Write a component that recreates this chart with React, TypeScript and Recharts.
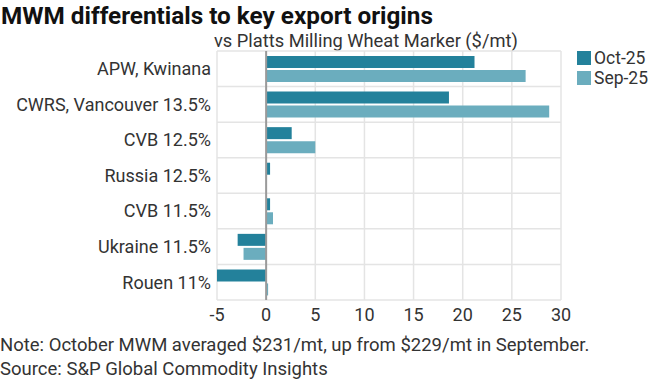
import { BarChart, Bar, XAxis, YAxis, CartesianGrid, ReferenceLine } from 'recharts';

const origins = [
    'APW, Kwinana',
    'CWRS, Vancouver 13.5%',
    'CVB 12.5%',
    'Russia 12.5%',
    'CVB 11.5%',
    'Ukraine 11.5%',
    'Rouen 11%',
];
const oct25 = [21.2, 18.6, 2.6, 0.4, 0.4, -2.9, -5.0];
const sep25 = [26.4, 28.8, 5.0, 0, 0.7, -2.3, 0.2];
const xTicks = [-5, 0, 5, 10, 15, 20, 25, 30];
const seriesNames = ['Oct-25', 'Sep-25'];
const colors = ['#23819b', '#6badbe'];

const data = origins.map((origin, i) => ({
    origin,
    oct: oct25[i],
    sep: sep25[i],
}));

const font = 'Roboto, sans-serif';

function App() {
    // grid lines sit between categories, not through them
    const bandLines = ({ offset }: any) =>
        origins.map((_, i) => offset.top + (i * offset.height) / origins.length).concat(offset.top + offset.height);

    return (
        <div style={{ position: 'fixed', top: 0, left: 0, width: 660, height: 381, background: '#fff', fontFamily: font, color: '#333' }}>
            <div style={{ position: 'absolute', left: 1, top: 1, fontSize: 24.3, fontWeight: 700, color: '#111' }}>
                MWM differentials to key export origins
            </div>
            <div style={{ position: 'absolute', left: 214, top: 30, fontSize: 18.3 }}>
                vs Platts Milling Wheat Marker ($/mt)
            </div>
            <div style={{ position: 'absolute', left: 577, top: 48, fontSize: 17.5, lineHeight: '20px' }}>
                {seriesNames.map((name, i) => (
                    <div key={name} style={{ display: 'flex', alignItems: 'center' }}>
                        <span style={{ width: 14, height: 14, background: colors[i], marginRight: 3 }} />
                        {name}
                    </div>
                ))}
            </div>
            <BarChart
                width={660}
                height={381}
                data={data}
                layout="vertical"
                margin={{ top: 51, right: 99, bottom: 51, left: 0 }}
                barSize={12}
                barGap={2}
            >
                <CartesianGrid stroke="#e4e4e4" strokeWidth={1.5} horizontalCoordinatesGenerator={bandLines} />
                <XAxis
                    type="number"
                    domain={[-5, 30]}
                    ticks={xTicks}
                    allowDataOverflow
                    axisLine={false}
                    tickLine={false}
                    height={30}
                    tick={{ fontSize: 18, fill: '#333', fontFamily: font }}
                />
                <YAxis
                    type="category"
                    dataKey="origin"
                    width={217}
                    axisLine={false}
                    tickLine={false}
                    tickSize={4}
                    tick={{ fontSize: 18, fill: '#333', fontFamily: font }}
                />
                <Bar dataKey="oct" name={seriesNames[0]} fill={colors[0]} isAnimationActive={false} />
                <Bar dataKey="sep" name={seriesNames[1]} fill={colors[1]} isAnimationActive={false} />
                <ReferenceLine x={0} stroke="#9a9a9a" strokeWidth={2} />
            </BarChart>
            <div style={{ position: 'absolute', left: 0, top: 333, fontSize: 18.5, lineHeight: '24px' }}>
                Note: October MWM averaged $231/mt, up from $229/mt in September.
                <br />
                Source: S&amp;P Global Commodity Insights
            </div>
        </div>
    );
}

export default App;
